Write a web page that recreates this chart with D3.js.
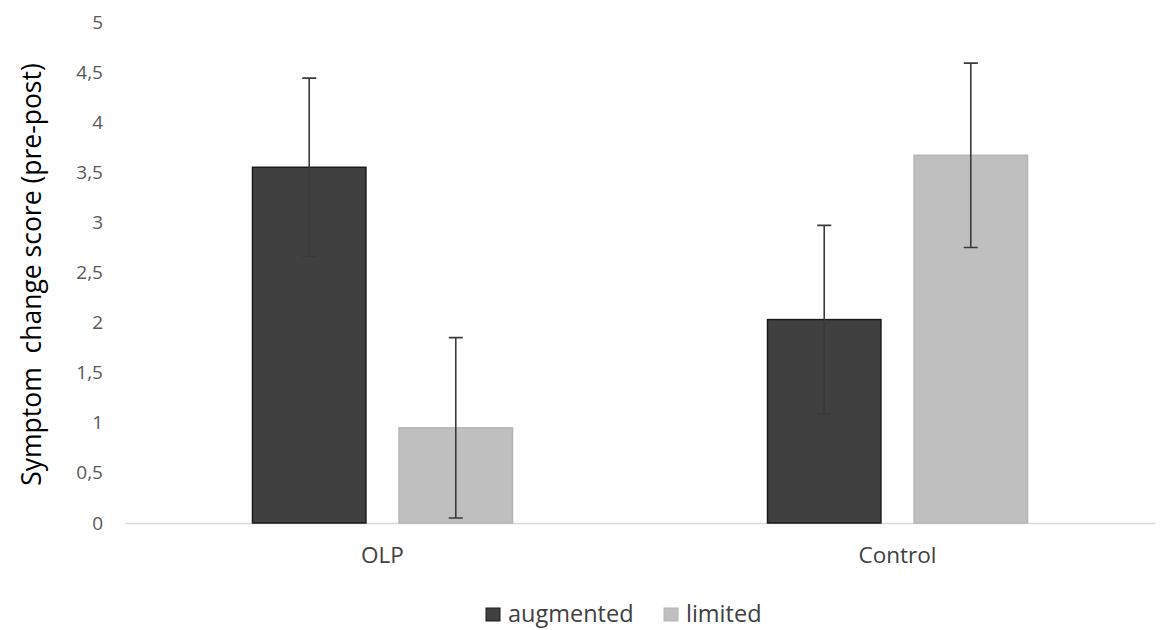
<!DOCTYPE html>
<html>
<head>
<meta charset="utf-8">
<script src="https://cdn.jsdelivr.net/npm/d3@7"></script>
<style>
  body { margin: 0; background: #fff; }
  text { font-family: "Open Sans", "Noto Sans", sans-serif; }
</style>
</head>
<body>
<svg id="chart" width="1161" height="630"></svg>
<script>
const categories = ["OLP", "Control"];
const series = ["augmented", "limited"];
const augmented = [3.55, 2.03];
const limited = [0.95, 3.67];
const augmentedErr = [0.89, 0.94];
const limitedErr = [0.90, 0.92];
const yTicks = [0, 0.5, 1, 1.5, 2, 2.5, 3, 3.5, 4, 4.5, 5];

const colors = { augmented: "#404040", limited: "#bfbfbf" };

const svg = d3.select("#chart");
const margin = { left: 125, right: 6, top: 22, bottom: 107 };
const width = 1161 - margin.left - margin.right;
const height = 630 - margin.top - margin.bottom;

const g = svg.append("g")
  .attr("transform", "translate(" + margin.left + "," + margin.top + ")");

const rows = categories.map((c, i) => ({
  category: c,
  values: [
    { key: "augmented", value: augmented[i], err: augmentedErr[i] },
    { key: "limited", value: limited[i], err: limitedErr[i] }
  ]
}));

// scales
const x0 = d3.scaleBand().domain(categories).range([0, width]);
const x1 = d3.scaleBand().domain(series).range([-130, 130]).paddingInner(0.226);
const y = d3.scaleLinear().domain([0, 5]).range([height, 0]);

// y axis labels (no line)
const yAxis = g.append("g")
  .call(d3.axisLeft(y).tickValues(yTicks).tickSize(0).tickPadding(22)
    .tickFormat(d => String(d).replace(".", ",")));
yAxis.select(".domain").remove();
yAxis.selectAll("text")
  .attr("font-size", 19)
  .attr("fill", "#595959")
  .style("font-family", "'Open Sans', sans-serif");

// x axis
const xAxis = g.append("g")
  .attr("transform", "translate(0," + height + ")")
  .call(d3.axisBottom(x0).tickSize(0).tickPadding(24));
xAxis.select(".domain").attr("stroke", "#d9d9d9").attr("stroke-width", 1.5);
xAxis.selectAll("text")
  .attr("font-size", 22.5)
  .attr("fill", "#404040")
  .style("font-family", "'Open Sans', sans-serif");

// bars
const groups = g.selectAll(".grp")
  .data(rows)
  .enter()
  .append("g")
  .attr("transform", d => "translate(" + (x0(d.category) + x0.bandwidth() / 2) + ",0)");

groups.selectAll("rect")
  .data(d => d.values)
  .enter()
  .append("rect")
  .attr("x", d => x1(d.key))
  .attr("y", d => y(d.value))
  .attr("width", x1.bandwidth())
  .attr("height", d => y(0) - y(d.value))
  .attr("fill", d => colors[d.key])
  .attr("stroke", d => d.key === "augmented" ? "#1a1a1a" : "#b5b5b5")
  .attr("stroke-width", 1.5);

// error bars
const capW = 7;
groups.selectAll(".err")
  .data(d => d.values)
  .enter()
  .append("path")
  .attr("fill", "none")
  .attr("stroke", "#3a3a3a")
  .attr("stroke-width", 1.6)
  .attr("d", d => {
    const cx = x1(d.key) + x1.bandwidth() / 2;
    const top = y(d.value + d.err), bot = y(d.value - d.err);
    return "M" + (cx - capW) + "," + top + "H" + (cx + capW) +
      "M" + cx + "," + top + "V" + bot +
      "M" + (cx - capW) + "," + bot + "H" + (cx + capW);
  });

// y axis title
svg.append("text")
  .attr("transform", "translate(41," + (margin.top + height / 2 + 2) + ") rotate(-90)")
  .attr("text-anchor", "middle")
  .attr("font-size", 26.5)
  .attr("fill", "#000")
  .attr("xml:space", "preserve")
  .text("Symptom  change score (pre-post)");

// legend
const legend = svg.append("g").attr("transform", "translate(486,608)");
const legendX = [0, 178];
series.forEach((s, i) => {
  const lg = legend.append("g").attr("transform", "translate(" + legendX[i] + ",0)");
  lg.append("rect")
    .attr("width", 14).attr("height", 13)
    .attr("fill", colors[s])
    .attr("stroke", s === "augmented" ? "#1a1a1a" : "#b5b5b5");
  lg.append("text")
    .attr("x", 22).attr("y", 14)
    .attr("font-size", 23.5)
    .attr("fill", "#404040")
    .text(s);
});
</script>
</body>
</html>
